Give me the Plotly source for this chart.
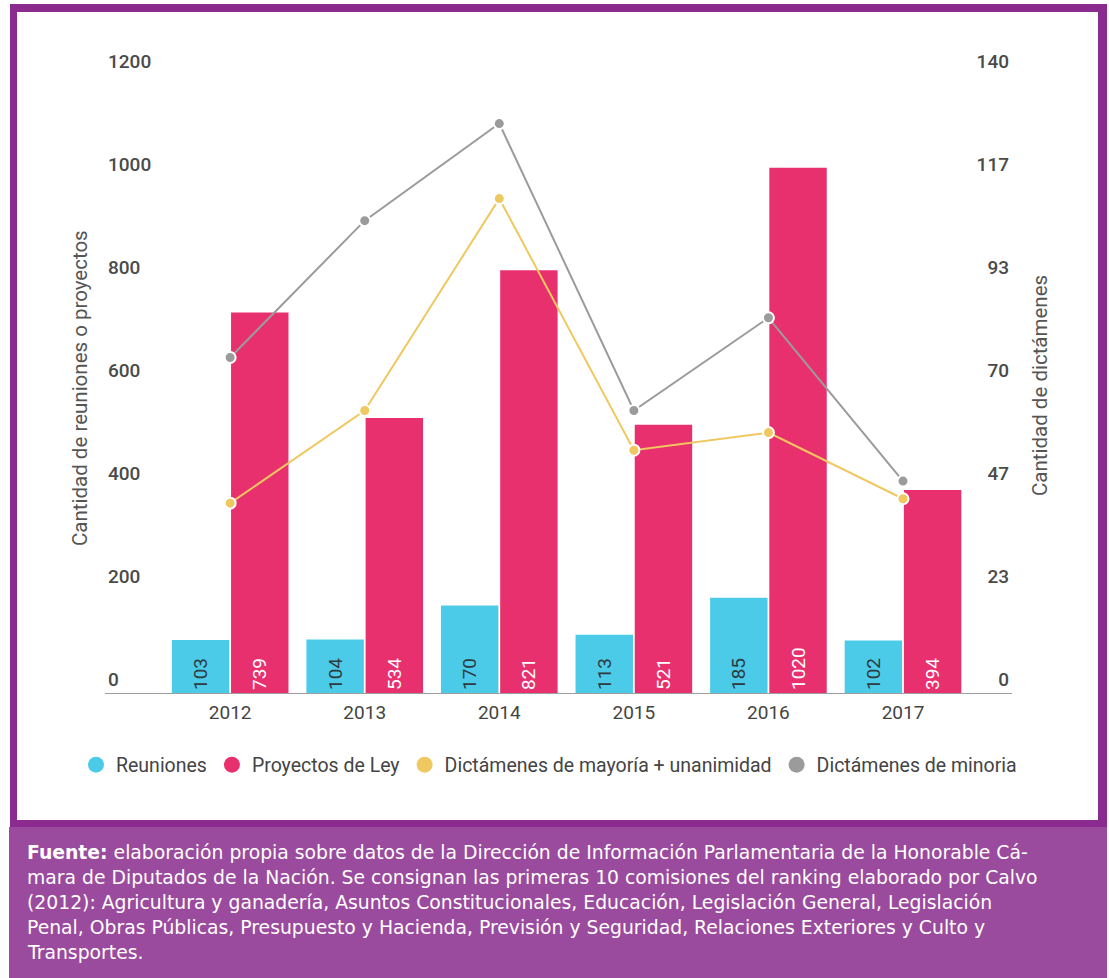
import plotly.graph_objects as go

# ---- data ----
years = ["2012", "2013", "2014", "2015", "2016", "2017"]
reuniones = [103, 104, 170, 113, 185, 102]
proyectos = [739, 534, 821, 521, 1020, 394]
dict_mayoria = [43, 64, 112, 55, 59, 44]
dict_minoria = [76, 107, 129, 64, 85, 48]

left_ticks = [0, 200, 400, 600, 800, 1000, 1200]
right_tickvals = [0, 140 / 6, 280 / 6, 70, 560 / 6, 700 / 6, 140]
right_ticktext = ["0", "23", "47", "70", "93", "117", "140"]

left_title = "Cantidad de reuniones o proyectos"
right_title = "Cantidad de dictámenes"

footer_lines = [
    "<b>Fuente:</b> elaboración propia sobre datos de la Dirección de Información Parlamentaria de la Honorable Cá-",
    "mara de Diputados de la Nación. Se consignan las primeras 10 comisiones del ranking elaborado por Calvo",
    "(2012): Agricultura y ganadería, Asuntos Constitucionales, Educación, Legislación General, Legislación",
    "Penal, Obras Públicas, Presupuesto y Hacienda, Previsión y Seguridad, Relaciones Exteriores y Culto y",
    "Transportes.",
]

# ---- styles ----
C_CYAN = "#4ccbe9"
C_PINK = "#e9306f"
C_YELLOW = "#efc85f"
C_GRAY = "#9b9b9b"
PURPLE_DARK = "#8b2b8f"
PURPLE_LIGHT = "#9a4b9e"
FONT = "Roboto"
W, H = 1109, 978


def px(x):
    return x / W


def py(y):
    return 1 - y / H


fig = go.Figure()

fig.add_trace(go.Bar(
    x=years, y=reuniones, name="Reuniones", marker=dict(color=C_CYAN, line=dict(width=0)),
    text=[str(v) for v in reuniones], textposition="inside", insidetextanchor="start",
    textangle=-90, constraintext="none",
    textfont=dict(family=FONT, size=19, color="#2f3a40"), showlegend=False,
))
fig.add_trace(go.Bar(
    x=years, y=proyectos, name="Proyectos de Ley", marker=dict(color=C_PINK, line=dict(width=0)),
    text=[str(v) for v in proyectos], textposition="inside", insidetextanchor="start",
    textangle=-90, constraintext="none",
    textfont=dict(family=FONT, size=19, color="white"), showlegend=False,
))
fig.add_trace(go.Scatter(
    x=years, y=dict_mayoria, yaxis="y2", mode="lines+markers",
    name="Dictámenes de mayoría + unanimidad",
    line=dict(color=C_YELLOW, width=2),
    marker=dict(color=C_YELLOW, size=11, line=dict(color="white", width=2)),
    showlegend=False,
))
fig.add_trace(go.Scatter(
    x=years, y=dict_minoria, yaxis="y2", mode="lines+markers",
    name="Dictámenes de minoria",
    line=dict(color=C_GRAY, width=2),
    marker=dict(color=C_GRAY, size=11, line=dict(color="white", width=2)),
    showlegend=False,
))

# legend entries (circles)
for name, col in [("Reuniones", C_CYAN), ("Proyectos de Ley", C_PINK),
                  ("Dictámenes de mayoría + unanimidad", C_YELLOW),
                  ("Dictámenes de minoria", C_GRAY)]:
    fig.add_trace(go.Scatter(x=[None], y=[None], mode="markers", name=name,
                             marker=dict(color=col, size=16, symbol="circle"),
                             showlegend=True))

x0, x1 = 105, 1012
y_base = 693
scale = 618 / 1200            # px per unit of the left axis
left_max = 1260
right_max = 140 * left_max / 1200
y_top = y_base - left_max * scale

shapes = [
    dict(type="rect", xref="paper", yref="paper", x0=px(10), x1=px(1107), y0=py(828), y1=py(4),
         fillcolor=PURPLE_DARK, line=dict(width=0), layer="below"),
    dict(type="rect", xref="paper", yref="paper", x0=px(17), x1=px(1098), y0=py(820), y1=py(12),
         fillcolor="white", line=dict(width=0), layer="below"),
    dict(type="rect", xref="paper", yref="paper", x0=px(9), x1=px(1107), y0=py(978), y1=py(827),
         fillcolor=PURPLE_LIGHT, line=dict(width=0), layer="below"),
]

annotations = [
    dict(text=left_title, xref="paper", yref="paper", x=px(80), y=py(388),
         xanchor="center", yanchor="middle", textangle=-90, showarrow=False,
         font=dict(family=FONT, size=20.5, color="#555")),
    dict(text=right_title, xref="paper", yref="paper", x=px(1040), y=py(386),
         xanchor="center", yanchor="middle", textangle=-90, showarrow=False,
         font=dict(family=FONT, size=20.5, color="#555")),
]
for i, line in enumerate(footer_lines):
    annotations.append(dict(
        text=line, xref="paper", yref="paper", x=px(25), y=py(852 + 25 * i),
        xanchor="left", yanchor="middle", align="left", showarrow=False,
        font=dict(family="DejaVu Sans", size=18.8, color="white"),
    ))

fig.update_layout(
    width=W, height=H,
    margin=dict(l=0, r=0, t=0, b=0),
    paper_bgcolor="white", plot_bgcolor="rgba(0,0,0,0)",
    font=dict(family=FONT, size=19, color="#444"),
    barmode="group", bargap=0.12, bargroupgap=0.03,
    shapes=shapes,
    xaxis=dict(
        domain=[px(x0), px(x1)], range=[-0.93, 5.81], type="category",
        showgrid=False, zeroline=False, showline=True, linecolor="#9e9e9e", linewidth=1,
        ticks="", ticklabelstandoff=2,
        tickfont=dict(family=FONT, size=19, color="#444"),
        anchor="y",
    ),
    yaxis=dict(
        domain=[py(y_base), py(y_top)], range=[0, left_max],
        tickvals=left_ticks, ticktext=[str(v) for v in left_ticks],
        ticklabelposition="inside top", ticks="",
        showgrid=False, zeroline=False, showline=False,
        tickfont=dict(family=FONT, size=19, color="#4a4a4a", weight=500),
        automargin=False,
    ),
    yaxis2=dict(
        overlaying="y", side="right", range=[0, right_max],
        tickvals=right_tickvals, ticktext=right_ticktext,
        ticklabelposition="inside top", ticks="",
        showgrid=False, zeroline=False, showline=False,
        tickfont=dict(family=FONT, size=19, color="#4a4a4a", weight=500),
        automargin=False,
    ),
    legend=dict(
        orientation="h", x=px(549), xanchor="center", y=py(765), yanchor="middle",
        font=dict(family=FONT, size=19.5, color="#444"),
        bgcolor="rgba(0,0,0,0)", itemwidth=30, itemclick=False,
    ),
    annotations=annotations,
)

fig.write_html("out.html")
